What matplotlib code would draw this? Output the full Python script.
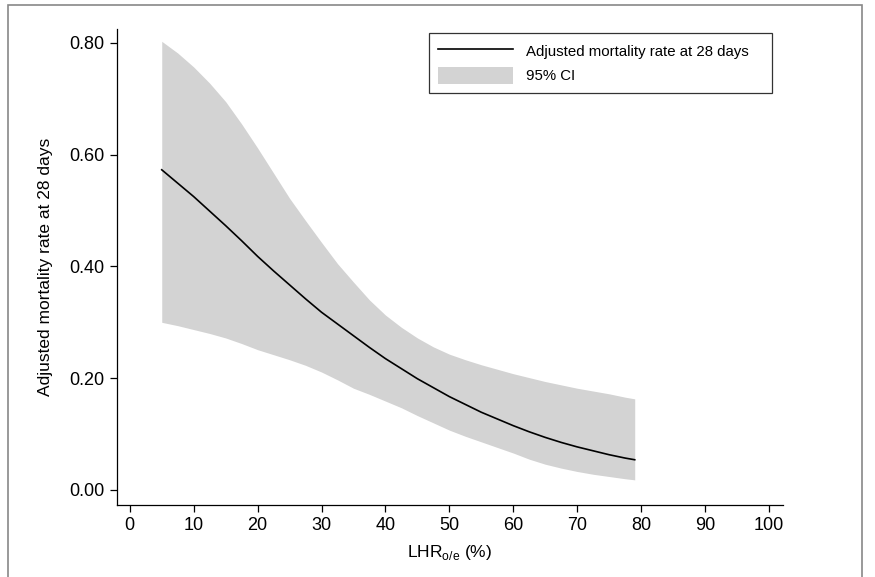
import numpy as np
from matplotlib import pyplot as plt
from matplotlib.patches import Rectangle, Patch
from matplotlib.lines import Line2D

plt.rcParams['font.family'] = ['Liberation Sans', 'DejaVu Sans']
plt.rcParams['mathtext.fontset'] = 'custom'
plt.rcParams['mathtext.rm'] = 'Liberation Sans'

# values
lhr = [5, 7.5, 10, 12.5, 15, 17.5, 20, 22.5, 25, 27.5, 30, 32.5, 35, 37.5,
       40, 42.5, 45, 47.5, 50, 52.5, 55, 57.5, 60, 62.5, 65, 67.5, 70, 72.5,
       75, 77.5, 79]
rate = [0.573, 0.549, 0.525, 0.499, 0.473, 0.446, 0.418, 0.392, 0.367,
        0.342, 0.318, 0.297, 0.276, 0.255, 0.235, 0.217, 0.199, 0.183,
        0.167, 0.153, 0.139, 0.127, 0.115, 0.104, 0.094, 0.085, 0.077,
        0.070, 0.063, 0.057, 0.054]
ci_upper = [0.803, 0.782, 0.757, 0.728, 0.695, 0.655, 0.612, 0.567, 0.522,
            0.482, 0.443, 0.405, 0.372, 0.340, 0.313, 0.291, 0.272, 0.256,
            0.243, 0.233, 0.224, 0.216, 0.208, 0.201, 0.194, 0.188, 0.182,
            0.177, 0.172, 0.166, 0.163]
ci_lower = [0.300, 0.294, 0.287, 0.280, 0.272, 0.262, 0.251, 0.242, 0.233,
            0.223, 0.211, 0.197, 0.182, 0.171, 0.159, 0.147, 0.133, 0.120,
            0.107, 0.096, 0.086, 0.076, 0.066, 0.055, 0.046, 0.039, 0.033,
            0.028, 0.024, 0.020, 0.018]
xticks = list(range(0, 101, 10))
yticks = [0.0, 0.2, 0.4, 0.6, 0.8]

fig = plt.figure(figsize=(8.75, 5.77), dpi=100)
W, H = 875, 577
ax = fig.add_axes([117 / W, 1 - 505 / H, (783 - 117) / W, (505 - 29) / H])

ax.fill_between(lhr, ci_lower, ci_upper, color='#d3d3d3', linewidth=0)
ax.plot(lhr, rate, color='black', linewidth=1.2)

ax.set_xlim(-2.0, 102.2)
ax.set_ylim(-0.027, 0.825)
ax.set_xticks(xticks)
ax.set_yticks(yticks)
ax.set_yticklabels([f'{v:.2f}' for v in yticks])
for s in ['top', 'right']:
    ax.spines[s].set_visible(False)
for s in ['left', 'bottom']:
    ax.spines[s].set_linewidth(0.9)
ax.tick_params(direction='out', length=5, width=0.9, labelsize=13, pad=4)

ax.set_xlabel(r'LHR$_{\mathrm{o/e}}$ (%)', fontsize=12.5, labelpad=6)
ax.set_ylabel('Adjusted mortality rate at 28 days', fontsize=12.5, labelpad=12)

# legend box spans x = 429..772 px, top at y = 33 px
aw = 783 - 117
handles = [Line2D([], [], color='black', linewidth=1.2),
           Patch(facecolor='#d3d3d3', edgecolor='none')]
leg = ax.legend(handles, ['Adjusted mortality rate at 28 days', '95% CI'],
                loc='upper left', mode='expand',
                bbox_to_anchor=((429 - 117) / aw, 0, (772 - 429) / aw, 1 - 4 / 476),
                fontsize=10.8, frameon=True, fancybox=False, handlelength=5.0,
                handleheight=1.45, borderpad=0.6, labelspacing=0.45,
                handletextpad=0.9, borderaxespad=0)
leg.get_frame().set_edgecolor('black')
leg.get_frame().set_linewidth(0.9)

# outer frame of the figure image
fig.patches.append(Rectangle((8 / W, -0.02), (862 - 8) / W, 1 - 5 / H + 0.02,
                             transform=fig.transFigure, fill=False,
                             edgecolor='#888888', linewidth=1.2))

fig.savefig('out.png', dpi=100)
